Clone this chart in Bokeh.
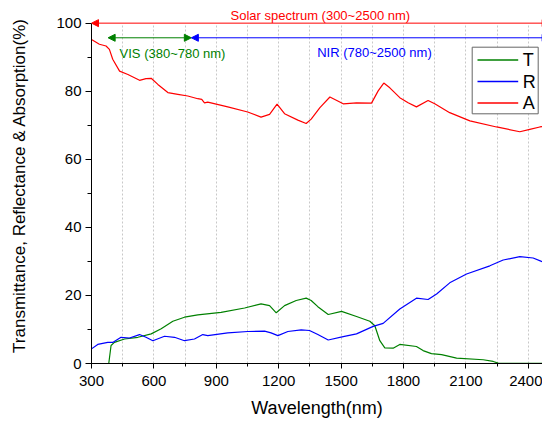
from bokeh.plotting import figure
from bokeh.models import (Range1d, SingleIntervalTicker, Label, Arrow, NormalHead,
                          BoxAnnotation)
from bokeh.embed import file_html
from bokeh.resources import INLINE

# ---- data ----
wl_A = [300, 338, 370, 386, 402, 435, 475, 531, 562, 587, 619, 667, 715, 763, 811,
        830, 843, 859, 955, 1051, 1115, 1156, 1192, 1228, 1292, 1332, 1356, 1398,
        1446, 1510, 1574, 1646, 1678, 1705, 1734, 1782, 1822, 1862, 1918, 1950,
        2022, 2119, 2247, 2359, 2407, 2455, 2500]
A = [95.2, 93.8, 93.3, 92.3, 89.4, 85.9, 84.9, 83.2, 83.7, 83.8, 82.0, 79.6, 79.1,
     78.6, 77.8, 77.6, 76.6, 76.8, 75.4, 73.9, 72.4, 73.2, 76.2, 73.4, 71.5, 70.5,
     71.8, 75.2, 78.3, 76.3, 76.6, 76.5, 80.1, 82.4, 81.0, 78.1, 76.6, 75.4, 77.3,
     76.3, 73.7, 71.3, 69.5, 68.1, 68.8, 69.5, 69.8]

wl_T = [300, 383, 394, 410, 459, 523, 587, 635, 691, 747, 811, 923, 1036, 1115,
        1156, 1188, 1228, 1284, 1332, 1356, 1388, 1438, 1502, 1574, 1638, 1662,
        1686, 1710, 1750, 1782, 1862, 1894, 1934, 1983, 2055, 2183, 2231, 2255, 2500]
T = [0.0, 0.0, 5.3, 6.2, 7.2, 7.7, 8.7, 10.2, 12.4, 13.6, 14.3, 15.0, 16.3, 17.5,
     17.0, 14.9, 17.0, 18.5, 19.2, 18.5, 16.7, 14.4, 15.3, 13.8, 12.4, 11.1, 6.7,
     4.6, 4.5, 5.6, 5.0, 3.8, 2.9, 2.6, 1.6, 1.1, 0.6, 0.1, 0.0]

wl_R = [300, 330, 378, 402, 442, 483, 531, 562, 595, 651, 699, 747, 795, 835, 859,
        955, 1051, 1132, 1163, 1196, 1244, 1308, 1348, 1388, 1438, 1510, 1574, 1654,
        1702, 1782, 1862, 1918, 1959, 2022, 2103, 2215, 2279, 2359, 2423, 2463, 2500]
R = [4.3, 5.6, 6.2, 6.2, 7.7, 7.5, 8.5, 7.7, 6.7, 8.0, 7.7, 6.7, 7.2, 8.5, 8.2,
     9.0, 9.4, 9.5, 9.0, 8.2, 9.4, 9.9, 9.7, 8.5, 6.9, 7.9, 8.7, 10.9, 11.8, 16.0,
     19.2, 18.8, 20.4, 23.7, 26.3, 28.7, 30.4, 31.4, 31.0, 30.0, 29.4]

series_names = ["T", "R", "A"]
series_colors = ["#008000", "#0000FF", "#FF0000"]

band_labels = ["Solar spectrum (300~2500 nm)", "VIS (380~780 nm)", "NIR (780~2500 nm)"]
band_start = [300, 380, 780]
band_end = [2500, 780, 2500]
band_y = [100, 95.7, 95.7]
band_colors = ["#FF0000", "#008000", "#0000FF"]

FONT = "Liberation Sans"

p = figure(width=542, height=421, output_backend="svg", toolbar_location=None,
           x_range=Range1d(300, 2468), y_range=Range1d(0, 104.6),
           min_border_left=91, min_border_right=0, min_border_top=7,
           min_border_bottom=58)
p.outline_line_color = None
p.background_fill_color = "white"
p.border_fill_color = "white"

# axes
p.xaxis.ticker = SingleIntervalTicker(interval=300, num_minor_ticks=2)
p.yaxis.ticker = SingleIntervalTicker(interval=20, num_minor_ticks=2)
p.yaxis.bounds = (0, 100)
p.xaxis.axis_label = "Wavelength(nm)"
p.yaxis.axis_label = "Transmittance, Reflectance & Absorption(%)"
for ax in (p.xaxis, p.yaxis):
    ax.axis_label_text_font = FONT
    ax.axis_label_text_font_style = "normal"
    ax.axis_label_text_color = "black"
    ax.major_label_text_font = FONT
    ax.major_label_text_color = "black"
    ax.major_label_text_font_size = "15px"
    ax.axis_line_color = "black"
    ax.major_tick_line_color = "black"
    ax.minor_tick_line_color = "black"
    ax.major_tick_in = 0
    ax.minor_tick_in = 0
p.xaxis.axis_label_text_font_size = "18px"
p.yaxis.axis_label_text_font_size = "17px"
p.xaxis.major_tick_out = 5
p.xaxis.minor_tick_out = 3
p.yaxis.major_tick_out = 6
p.yaxis.minor_tick_out = 4
p.xaxis.major_label_standoff = 7
p.yaxis.major_label_standoff = 4
p.xaxis.axis_label_standoff = 9
p.yaxis.axis_label_standoff = 24

p.xgrid.grid_line_color = None
p.xgrid.minor_grid_line_color = "#c8c8c8"
p.xgrid.minor_grid_line_dash = "2 2"
p.xgrid.cross_bounds = (0, 100)
p.ygrid.grid_line_color = None

# curves
p.line(wl_T, T, line_color=series_colors[0], line_width=1.2)
p.line(wl_R, R, line_color=series_colors[1], line_width=1.2)
p.line(wl_A, A, line_color=series_colors[2], line_width=1.2)

# legend box (screen units, relative to frame bottom-left)
LEG_L, LEG_R, LEG_B, LEG_T = 380.7, 446.7, 249.7, 316.3
p.add_layout(BoxAnnotation(left=LEG_L, right=LEG_R, bottom=LEG_B, top=LEG_T,
                           left_units="screen", right_units="screen",
                           bottom_units="screen", top_units="screen",
                           fill_color="white", fill_alpha=1.0,
                           line_color="#666666", line_width=1, line_alpha=1.0))
ROW_H = 21.5
for i, (name, col) in enumerate(zip(series_names, series_colors)):
    yy = LEG_T - 12.8 - i * ROW_H
    p.add_layout(BoxAnnotation(left=LEG_L + 5.3, right=LEG_L + 46,
                               bottom=yy - 0.7, top=yy + 0.7,
                               left_units="screen", right_units="screen",
                               bottom_units="screen", top_units="screen",
                               fill_color=col, fill_alpha=1.0, line_color=None))
    p.add_layout(Label(x=LEG_L + 50.5, y=yy, x_units="screen", y_units="screen",
                       text=name, text_color="black", text_font=FONT,
                       text_font_size="18px", text_align="left",
                       text_baseline="middle"))

# band arrows
for s, e, y, c in zip(band_start, band_end, band_y, band_colors):
    p.add_layout(Arrow(x_start=s, x_end=e, y_start=y, y_end=y,
                       line_color=c, line_width=1,
                       start=NormalHead(size=7, fill_color=c, line_color=c, line_width=1),
                       end=NormalHead(size=7, fill_color=c, line_color=c, line_width=1)))

p.add_layout(Label(x=1400, y=102.3, text=band_labels[0], text_color=band_colors[0],
                   text_font=FONT, text_font_size="13px", text_align="center",
                   text_baseline="middle"))
p.add_layout(Label(x=435, y=91.1, text=band_labels[1], text_color=band_colors[1],
                   text_font=FONT, text_font_size="13px", text_align="left",
                   text_baseline="middle"))
p.add_layout(Label(x=1385, y=91.3, text=band_labels[2], text_color=band_colors[2],
                   text_font=FONT, text_font_size="13px", text_align="left",
                   text_baseline="middle"))

open("out.html", "w").write(file_html(p, INLINE))
